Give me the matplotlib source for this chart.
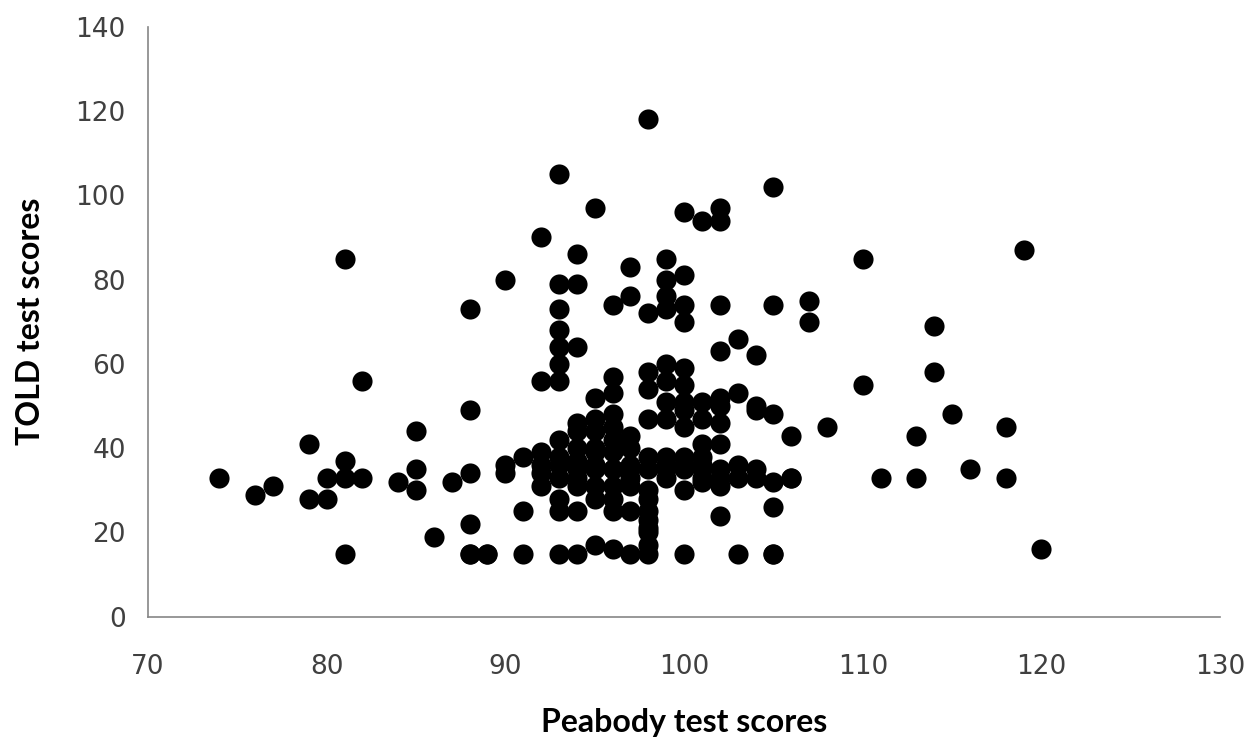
import matplotlib.pyplot as plt

# Peabody vs TOLD test scores, one point per child
peabody = [
    74, 76, 77, 79, 79, 80, 80, 81, 81, 82, 81, 81, 82, 84, 85, 85, 85, 86, 87,
    88, 88, 88, 88, 88, 89, 90,
    92, 93, 94, 95, 97, 98, 99, 99, 100, 99, 97, 96, 98, 99, 100, 100, 93, 94,
    93, 93, 93, 94, 93, 92, 93, 96, 96, 95, 100, 101, 102, 102, 105, 102, 105,
    107, 107, 103, 102, 104, 110, 119, 114, 114, 110, 115, 108, 106, 113, 118,
    116, 111, 113, 118, 106, 105, 105, 120,
    98, 99, 100, 98, 98, 100, 100, 99, 100, 100, 101, 102, 103, 102, 101, 104,
    105, 104,
    90, 90, 91, 92, 93, 94, 95, 96, 96, 94, 92, 92, 93, 93, 93, 94, 95, 95, 96,
    96, 97, 98, 98, 91, 94, 95, 97, 97, 96,
    97, 98, 99, 100, 101, 102, 103, 104, 105, 106, 100, 97, 100, 102, 98, 99,
    101, 102, 98, 98, 98, 98, 98,
    88, 89, 91, 93, 94, 95, 96, 97, 98, 100, 103, 105,
    94, 95, 96, 97, 99, 101, 95, 96, 94, 93, 94, 95, 96, 99, 100, 101, 103,
    104, 102, 93, 92, 97, 95, 96, 94, 99, 99, 101, 102, 102, 101,
]
told = [
    33, 29, 31, 41, 28, 28, 33, 37, 33, 33, 15, 85, 56, 32, 44, 35, 30, 19, 32,
    73, 49, 34, 22, 15, 15, 80,
    90, 105, 86, 97, 83, 118, 85, 80, 81, 76, 76, 74, 72, 73, 74, 70, 79, 79,
    73, 68, 64, 64, 60, 56, 56, 57, 53, 52, 96, 94, 97, 94, 102, 74, 74,
    75, 70, 66, 63, 62, 85, 87, 69, 58, 55, 48, 45, 43, 43, 45,
    35, 33, 33, 33, 33, 26, 15, 16,
    58, 60, 59, 54, 47, 55, 51, 51, 45, 49, 51, 52, 53, 46, 41, 50,
    48, 49,
    34, 36, 38, 39, 42, 46, 44, 45, 42, 40, 34, 31, 36, 28, 25, 25, 31, 36, 35,
    28, 25, 23, 20, 25, 33, 40, 40, 33, 31,
    35, 35, 35, 35, 35, 35, 36, 35, 32, 33, 38, 31, 30, 31, 30, 33,
    32, 24, 38, 28, 25, 21, 17,
    15, 15, 15, 15, 15, 17, 16, 15, 15, 15, 15, 15,
    35, 35, 35, 36, 36, 36, 39, 39, 37, 33, 31, 28, 25, 38, 36, 33, 33,
    33, 33, 38, 36, 43, 47, 48, 44, 56, 47, 47, 50, 41, 38,
]

fig = plt.figure(figsize=(12.54, 7.44), dpi=100)
ax = fig.add_axes([0.118, 0.171, 0.855, 0.793])

ax.scatter(peabody, told, s=210, color='black', marker='o', linewidths=0)

ax.set_xlim(70, 130)
ax.set_ylim(0, 140)
ax.set_xticks(range(70, 131, 10))
ax.set_yticks(range(0, 141, 20))

for side in ['top', 'right']:
    ax.spines[side].set_visible(False)
for side in ['left', 'bottom']:
    ax.spines[side].set_color('#868686')
    ax.spines[side].set_linewidth(1.2)

ax.tick_params(axis='both', length=0, labelsize=19, labelcolor='#404040')
ax.tick_params(axis='x', pad=27)
ax.tick_params(axis='y', pad=16)

ax.set_xlabel('Peabody test scores', fontsize=23, fontweight='bold',
              family='Lato', labelpad=20)
ax.set_ylabel('TOLD test scores', fontsize=23, fontweight='bold',
              family='Lato', labelpad=22)

fig.savefig('out.png', dpi=100, facecolor='white')
